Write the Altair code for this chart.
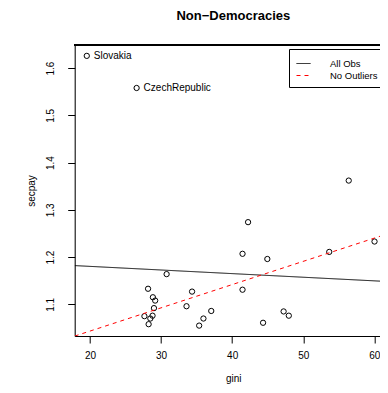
import altair as alt
import pandas as pd

# ---- data ----
gini = [19.55, 26.56, 56.4, 42.24, 41.46, 44.95, 53.66, 60.03, 30.78, 28.17,
        41.46, 34.36, 28.85, 29.17, 33.58, 29.0, 37.06, 47.24, 47.97, 27.66,
        28.8, 28.49, 35.96, 28.25, 35.36, 44.35]
secpay = [1.626, 1.558, 1.362, 1.274, 1.207, 1.196, 1.211, 1.233, 1.164, 1.133,
          1.131, 1.127, 1.115, 1.108, 1.096, 1.092, 1.086, 1.085, 1.076, 1.075,
          1.076, 1.070, 1.070, 1.058, 1.055, 1.061]
point_labels = ["Slovakia", "CzechRepublic"] + [""] * 24

series_names = ["All Obs", "No Outliers"]
intercepts = [1.1957, 0.945]
slopes = [-0.000766, 0.00492]
series_colors = ["black", "red"]

x_ticks = [20, 30, 40, 50, 60]
y_ticks = [1.1, 1.2, 1.3, 1.4, 1.5, 1.6]
x_domain = [17.85, 60.8]
y_domain = [1.033, 1.649]

FONT = "Liberation Sans"

pts = pd.DataFrame({"gini": gini, "secpay": secpay, "label": point_labels})
rows = []
for name, a, b in zip(series_names, intercepts, slopes):
    for xv in x_domain:
        rows.append({"series": name, "gini": xv, "secpay": a + b * xv})
lines_df = pd.DataFrame(rows)

xscale = alt.Scale(domain=x_domain, nice=False, zero=False)
yscale = alt.Scale(domain=y_domain, nice=False, zero=False)

x_axis = alt.Axis(orient="bottom", values=x_ticks, tickSize=7, tickColor="black",
                  domainColor="black", labelColor="black", labelFontSize=10,
                  labelPadding=7, grid=False, labelFont=FONT, titleFont=FONT,
                  labelFontWeight="normal",
                  title="gini", titleFontSize=10, titleFontWeight="normal",
                  titleColor="black", titleBaseline="alphabetic", titleY=45, titleX=158.6,
                  labelFlush=False, format="d")
y_axis = alt.Axis(orient="left", values=y_ticks, tickSize=7, tickColor="black",
                  domainColor="black", labelFont=FONT, titleFont=FONT,
                  labelColor="black", labelFontSize=10, labelAngle=270, labelAlign="center",
                  labelBaseline="alphabetic", labelPadding=14.5, grid=False,
                  title="secpay", titleFontSize=10, titleFontWeight="normal",
                  titleColor="black", titleAngle=270, titleAlign="center",
                  titleBaseline="alphabetic", titleX=-40, titleY=145.5, format=".1f")

points = alt.Chart(pts).mark_point(shape="circle", filled=False, color="black",
                                   size=28, strokeWidth=1, opacity=1).encode(
    x=alt.X("gini:Q", scale=xscale, axis=x_axis),
    y=alt.Y("secpay:Q", scale=yscale, axis=y_axis),
)

texts = alt.Chart(pts).mark_text(align="left", baseline="middle", dx=7, fontSize=10,
                                 font=FONT, color="black").encode(
    x=alt.X("gini:Q", scale=xscale, axis=x_axis),
    y=alt.Y("secpay:Q", scale=yscale, axis=y_axis),
    text="label:N",
)

# top edge of the plot frame, drawn through the scales at the domain limits
frame_top = alt.Chart(pts).mark_rule(color="black", strokeWidth=1).encode(
    x=alt.datum(x_domain[0], scale=xscale, axis=x_axis),
    x2=alt.datum(x_domain[1]),
    y=alt.datum(y_domain[1], scale=yscale, axis=y_axis),
)

leg = alt.Legend(title=None, orient="none", legendX=214.3, legendY=4,
                 symbolType="stroke", symbolSize=196, symbolStrokeWidth=1,
                 labelFontSize=9.5, labelFont=FONT, labelOffset=19, padding=7,
                 rowPadding=0, strokeColor="black", fillColor="white",
                 cornerRadius=0, labelColor="black")

lines = alt.Chart(lines_df).mark_line(strokeWidth=1, clip=True).encode(
    x=alt.X("gini:Q", scale=xscale, axis=x_axis),
    y=alt.Y("secpay:Q", scale=yscale, axis=y_axis),
    color=alt.Color("series:N", scale=alt.Scale(domain=series_names, range=series_colors),
                    legend=leg),
    strokeDash=alt.StrokeDash("series:N",
                              scale=alt.Scale(domain=series_names, range=[[1, 0], [4, 4]]),
                              legend=leg),
    detail="series:N",
)

chart = alt.layer(points, texts, frame_top, lines).properties(
    width=305.3,
    height=291,
    autosize=alt.AutoSizeParams(type="none"),
    padding={"left": 66.7, "top": 37, "right": 0, "bottom": 49},
    title=alt.TitleParams("Non\u2212Democracies", fontSize=13, fontWeight="bold",
                          font=FONT, color="black", anchor="middle", dx=6,
                          baseline="alphabetic", offset=12),
).configure_view(stroke=None).configure(font=FONT)

chart.save("out.html", embed_options={"renderer": "svg", "actions": False})
